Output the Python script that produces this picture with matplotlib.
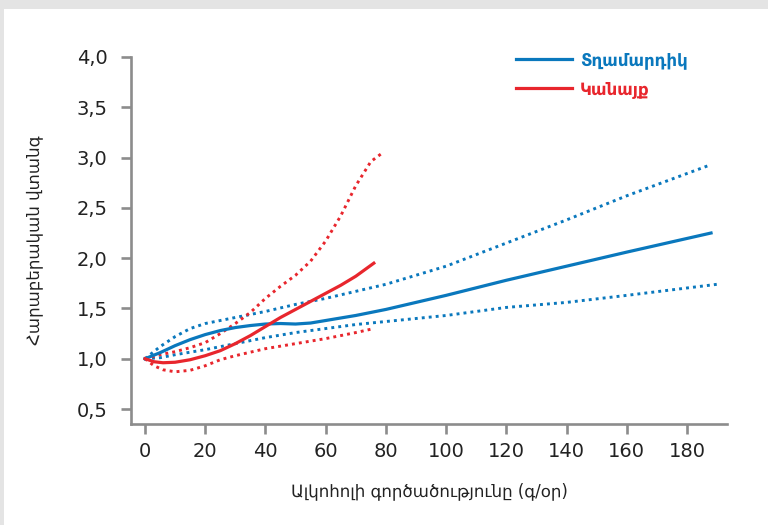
import matplotlib.pyplot as plt
from matplotlib.patches import Rectangle

plt.rcParams['font.family'] = ['DejaVu Sans']

# Men (blue): estimate and confidence bounds
men_x = [0, 5, 10, 15, 20, 25, 30, 35, 40, 45, 50, 55, 60, 70, 80, 90, 100, 120, 140, 160, 188]
men_y = [1.0, 1.06, 1.13, 1.19, 1.24, 1.28, 1.31, 1.33, 1.345, 1.35, 1.345, 1.355, 1.38,
         1.43, 1.49, 1.56, 1.63, 1.78, 1.92, 2.06, 2.25]
men_hi_x = [0, 5, 10, 15, 20, 25, 30, 40, 50, 55, 60, 70, 80, 90, 100, 120, 140, 160, 188]
men_hi_y = [1.0, 1.12, 1.22, 1.30, 1.35, 1.38, 1.41, 1.47, 1.54, 1.57, 1.60, 1.67, 1.74,
            1.83, 1.92, 2.15, 2.38, 2.62, 2.93]
men_lo_x = [0, 5, 10, 20, 30, 40, 50, 60, 70, 80, 90, 100, 120, 140, 160, 190]
men_lo_y = [1.0, 1.01, 1.04, 1.09, 1.15, 1.21, 1.26, 1.30, 1.34, 1.37, 1.40, 1.43, 1.51,
            1.56, 1.63, 1.74]

# Women (red)
wom_x = [0, 3, 6, 10, 15, 20, 25, 30, 35, 40, 45, 50, 55, 60, 65, 70, 76]
wom_y = [1.0, 0.97, 0.96, 0.965, 0.99, 1.03, 1.08, 1.15, 1.23, 1.32, 1.41, 1.49, 1.57,
         1.65, 1.73, 1.82, 1.95]
wom_hi_x = [0, 5, 10, 15, 20, 25, 30, 35, 40, 45, 50, 55, 60, 65, 70, 75, 79]
wom_hi_y = [1.0, 1.04, 1.07, 1.11, 1.16, 1.25, 1.35, 1.46, 1.60, 1.72, 1.83, 1.97, 2.17,
            2.42, 2.72, 2.96, 3.05]
wom_lo_x = [0, 3, 6, 10, 15, 20, 25, 30, 40, 50, 60, 70, 76]
wom_lo_y = [1.0, 0.93, 0.89, 0.87, 0.885, 0.93, 0.99, 1.03, 1.10, 1.15, 1.20, 1.26, 1.30]

x_ticks = [0, 20, 40, 60, 80, 100, 120, 140, 160, 180]
y_ticks = [0.5, 1.0, 1.5, 2.0, 2.5, 3.0, 3.5, 4.0]

blue = '#0a78bd'
red = '#e8262d'
spine_col = '#8c8c8c'

fig = plt.figure(figsize=(7.68, 5.25), dpi=100)
fig.patch.set_facecolor('#e4e4e4')
# white card with grey edge on top and left
card = Rectangle((4 / 768, 0), 1, 1 - 9 / 525, transform=fig.transFigure,
                 facecolor='white', edgecolor='none', zorder=-5)
fig.add_artist(card)

ax = fig.add_axes([131 / 768, 1 - 424 / 525, (727 - 131) / 768, (424 - 57) / 525])
ax.set_facecolor('none')

dot = (0, (1, 1.4))
ax.plot(men_hi_x, men_hi_y, color=blue, lw=2.1, ls=dot)
ax.plot(men_lo_x, men_lo_y, color=blue, lw=2.1, ls=dot)
ax.plot(wom_hi_x, wom_hi_y, color=red, lw=2.1, ls=dot)
ax.plot(wom_lo_x, wom_lo_y, color=red, lw=2.1, ls=dot)
ax.plot(men_x, men_y, color=blue, lw=2.3, label='Տղամարդիկ')
ax.plot(wom_x, wom_y, color=red, lw=2.3, label='Կանայք')

ax.set_xlim(-4.65, 193.3)
ax.set_ylim(0.351, 4.0)
ax.set_xticks(x_ticks)
ax.set_yticks(y_ticks)
ax.set_yticklabels([f'{v:.1f}'.replace('.', ',') for v in y_ticks])

for s in ['top', 'right']:
    ax.spines[s].set_visible(False)
for s in ['left', 'bottom']:
    ax.spines[s].set_color(spine_col)
    ax.spines[s].set_linewidth(1.9)
ax.tick_params(axis='both', colors=spine_col, width=1.9, length=7, labelcolor='#222222',
               labelsize=14)
ax.tick_params(axis='x', pad=6)
ax.tick_params(axis='y', pad=10)

ax.set_xlabel('Ալկոհոլի գործածությունը (գ/օր)', fontsize=12, color='#222222',
              labelpad=15)
ax.set_ylabel('Հարաբերական վտանգ', fontsize=12, color='#222222', labelpad=24)

leg = ax.legend(loc='upper left', bbox_to_anchor=(0.62, 1.058), frameon=False,
                fontsize=12, handlelength=3.4, labelcolor='linecolor', handletextpad=0.45,
                labelspacing=0.65)
for t in leg.get_texts():
    t.set_fontweight('bold')

plt.savefig('out.png', dpi=100)
